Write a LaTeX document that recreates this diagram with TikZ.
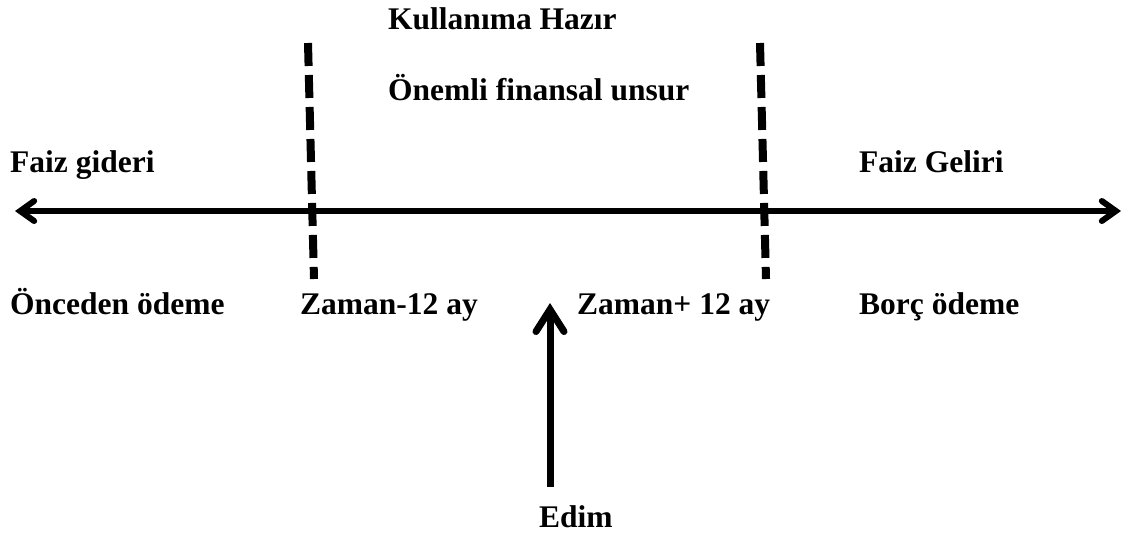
\documentclass[tikz,border=0pt]{standalone}
\usepackage{fontspec}
\setmainfont{Liberation Serif}
\usetikzlibrary{positioning, arrows.meta}

\tikzset{
  lbl/.style={anchor=base west, inner sep=0pt, font=\fontsize{31.5}{37}\selectfont\bfseries},
  axis/.style={line width=6pt, {Straight Barb[length=14pt, width=20pt, line width=6pt, line cap=round]}-{Straight Barb[length=14pt, width=20pt, line width=6pt, line cap=round]}},
  limit/.style={line width=8pt, dash pattern=on 23pt off 9pt},
  pointer/.style={line width=7pt, -{Straight Barb[length=22pt, width=28pt, line width=7pt, line cap=round]}}
}

\begin{document}
\begin{tikzpicture}[x=1pt, y=-1pt]
        \useasboundingbox (0,0) rectangle (1134,536);
        % labels
        \node[lbl] (ready) at (388,29) {Kullanıma Hazır};
        \node[lbl] (key) at (388,100) {Önemli finansal unsur};
        \node[lbl] (expense) at (10,172) {Faiz gideri};
        \node[lbl] (income) at (859,172) {Faiz Geliri};
        \node[lbl] (prepay) at (10,314) {Önceden ödeme};
        \node[lbl] (minus) at (300,314) {Zaman-12 ay};
        \node[lbl] (plus) at (577,314) {Zaman+ 12 ay};
        \node[lbl] (debt) at (859,314) {Borç ödeme};
        \node[lbl] (edim) at (539,527) {Edim};
        % time axis
        \coordinate (left) at (15,211);
        \coordinate (right) at (1121,211);
        \draw[axis] (left) -- (right);
        \foreach \x in {308,760}
          \draw[limit] (\x,43) -- (\x+6,279);
        \coordinate (foot) at (550,487);
        \coordinate (head) at (550,303);
        \draw[pointer] (foot) -- (head);
     \end{tikzpicture}
\end{document}
